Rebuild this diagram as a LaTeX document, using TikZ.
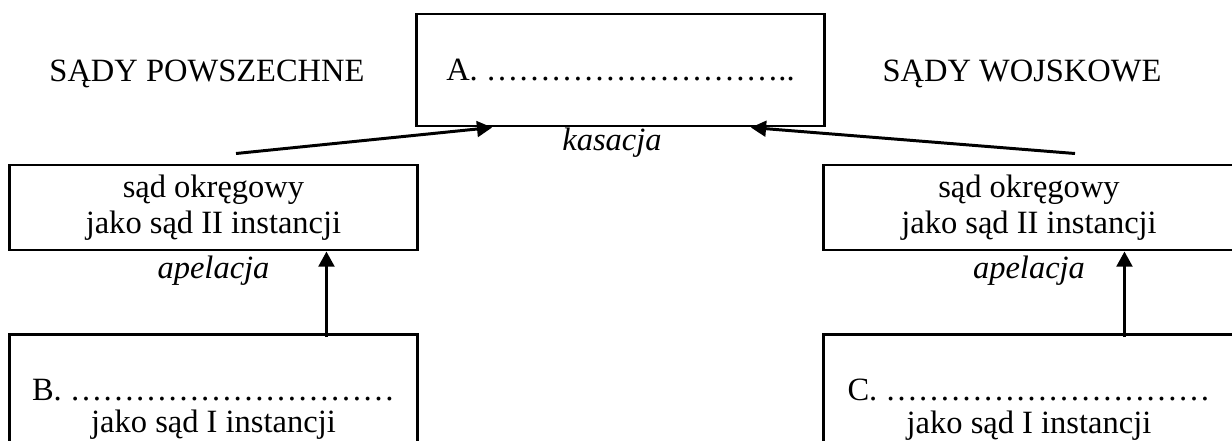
\documentclass[tikz,border=0pt]{standalone}
\usepackage{fontspec}
\setmainfont{Liberation Serif}
\usetikzlibrary{arrows.meta,calc}

\newcommand{\kropki}[1]{\foreach \k in {1,...,#1}{…}}

\tikzset{
  ramka/.style={draw, line width=1.1pt, rectangle, inner sep=0pt, align=center, minimum width=150.3pt},
  strzalka/.style={line width=1.1pt, -{Triangle[length=5.6pt,width=5.8pt]}},
  napis/.style={anchor=base, inner sep=0pt},
}

\begin{document}
\begin{tikzpicture}[x=0.3692pt, y=-0.3692pt, font=\fontsize{12pt}{13.3pt}\selectfont]
\useasboundingbox (0,0) rectangle (1232,441);
\clip (0,0) rectangle (1232,441);

% gorny sad
\node[ramka, minimum height=41.35pt] (sadA) at (620.5,70) {A.\ \kropki{9}..};
\node[napis] (powsz) at (207,81) {SĄDY POWSZECHNE};
\node[napis] (wojsk) at (1022,81) {SĄDY WOJSKOWE};
\node[napis] (kas) at (612,150) {\textit{kasacja}};

% sady II instancji
\node[ramka, minimum height=31.38pt] (okregL) at (213.5,207.5) {sąd okręgowy\\jako sąd II instancji};
\node[ramka, minimum height=31.38pt, minimum width=151.4pt] (okregR) at (1029,207.5) {sąd okręgowy\\jako sąd II instancji};
\node[napis] (apelL) at (213.5,278) {\textit{apelacja}};
\node[napis] (apelR) at (1029,278) {\textit{apelacja}};

% sady I instancji (ucięte u dołu)
\node[ramka, anchor=north, inner ysep=16.4pt] (rejonB) at (213.5,333) {B.\ \kropki{10}\\[-1.2pt]jako sąd I instancji};
\node[ramka, anchor=north, inner ysep=16.4pt, minimum width=151.4pt] (rejonC) at (1029,333) {C.\ \kropki{10}\\[-1.2pt]jako sąd I instancji};

% kasacja
\draw[strzalka] ($(okregL.north)+(22.5,-10)$) -- ($(sadA.south west)!0.187!(sadA.south east)$);
\draw[strzalka] ($(okregR.north)+(46,-10)$) -- ($(sadA.south west)!0.818!(sadA.south east)$);

% apelacja
\coordinate (apB) at ($(rejonB.north west)+(318,4)$);
\coordinate (apC) at ($(rejonC.north west)+(302,4)$);
\draw[strzalka] (apB) -- (apB |- okregL.south);
\draw[strzalka] (apC) -- (apC |- okregR.south);
\end{tikzpicture}
\end{document}
